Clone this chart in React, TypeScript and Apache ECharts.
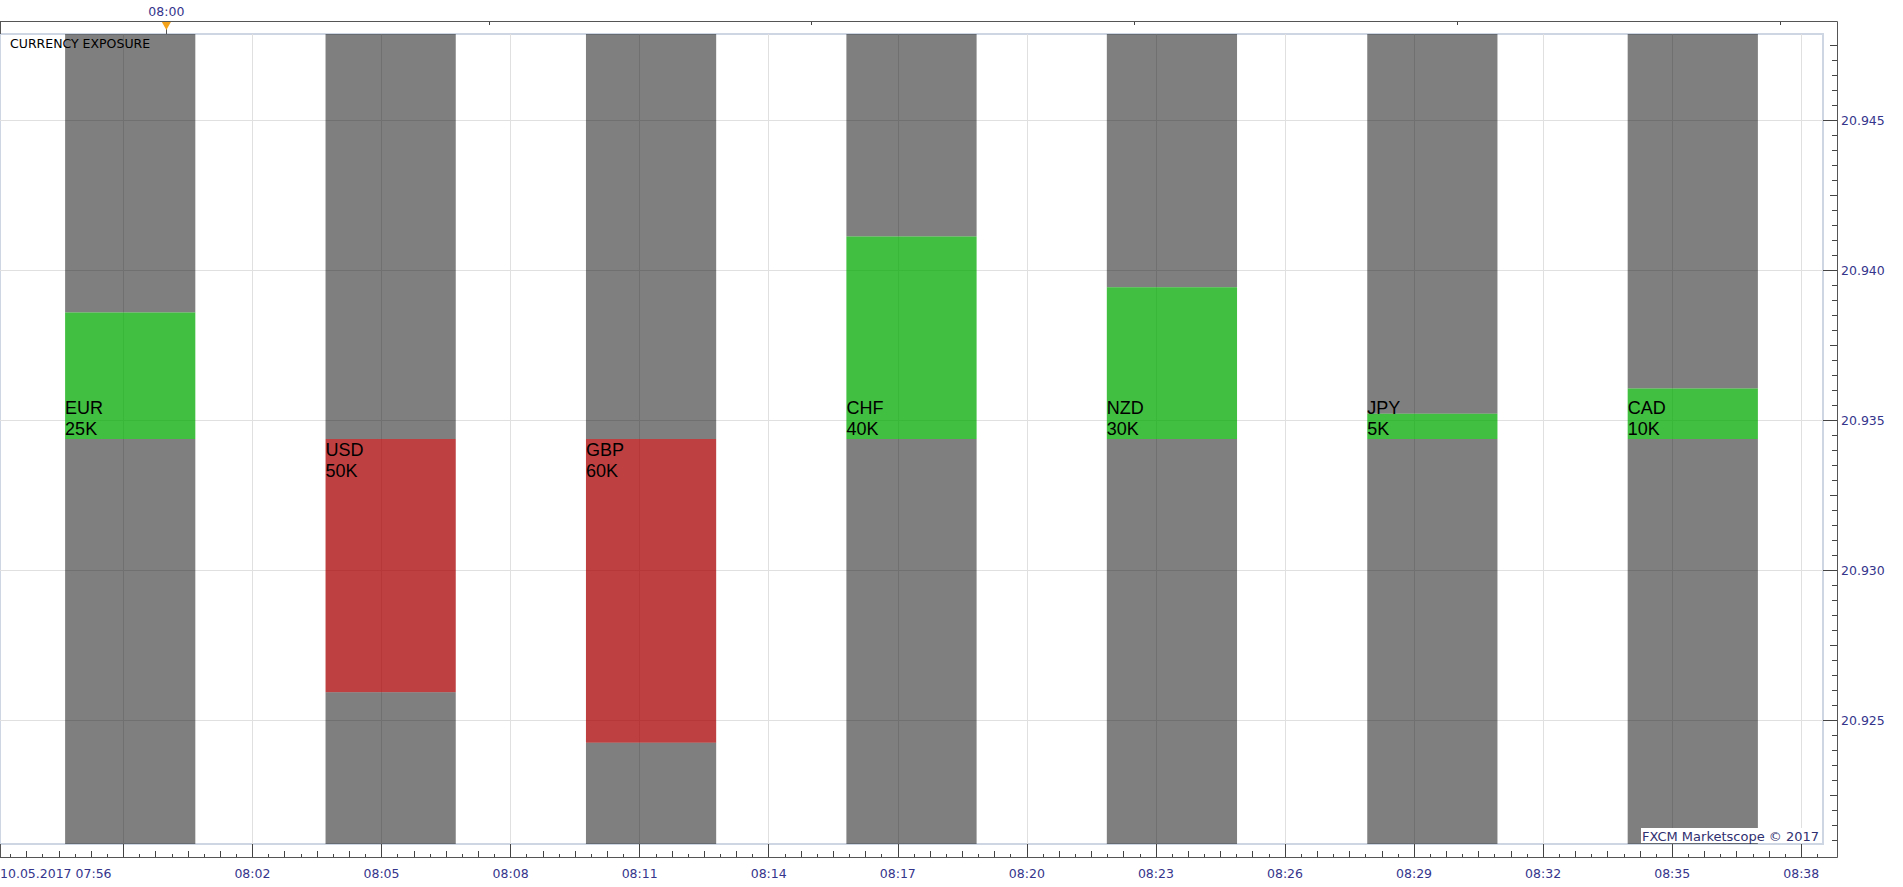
import React, { useEffect, useRef } from 'react';
import * as echarts from 'echarts';

// ---- data ----
const currencies = ['EUR', 'USD', 'GBP', 'CHF', 'NZD', 'JPY', 'CAD'];
const exposuresK = [25, -50, -60, 40, 30, 5, 10];
const exposureRangeK = 80;

// time axis: minutes after 10.05.2017 07:56
const startLabel = '10.05.2017 07:56';
const startMinuteOfDay = 7 * 60 + 56;
const timeMin = 0.1326;
const timeMax = 42.505;
const majorTimeTicks = [3, 6, 9, 12, 15, 18, 21, 24, 27, 30, 33, 36, 39, 42];
const timeLabelTicks = [6, 9, 12, 15, 18, 21, 24, 27, 30, 33, 36, 39, 42];
const topTimeTicks = [4, 11.5, 19, 26.5, 34, 41.5];
const topLabelTicks = [4];
const markerTime = 4;

// price axis
const priceMin = 20.920877;
const priceMax = 20.947877;
const priceTicks = [20.925, 20.93, 20.935, 20.94, 20.945];

const watermark = 'FXCM Marketscope \u00A9 2017';
const title = 'CURRENCY EXPOSURE';

// ---- helpers ----
const isMultiple = (v: number, step: number) => Math.abs(v / step - Math.round(v / step)) < 1e-6;
const timeTicksLong: number[] = [];
const timeTicksShort: number[] = [];
for (let k = 1; k * 0.375 < timeMax; k++) {
  const v = k * 0.375;
  if (v < timeMin || isMultiple(v, 3)) continue;
  if (k % 2 === 0) timeTicksLong.push(v);
  else timeTicksShort.push(v);
}
const priceMinorTicks: number[] = [];
const priceMidTicks: number[] = [];
for (let u = 209209; u <= 209478; u++) {
  if (u % 5 !== 0) continue;
  const v = u / 10000;
  if (v < priceMin || v > priceMax) continue;
  if (u % 50 === 0) continue;
  if (u % 25 === 0) priceMidTicks.push(v);
  else priceMinorTicks.push(v);
}

const fmtTime = (v: number) => {
  const m = Math.round(startMinuteOfDay + v);
  const hh = String(Math.floor(m / 60)).padStart(2, '0');
  const mm = String(m % 60).padStart(2, '0');
  return `${hh}:${mm}`;
};

const LABEL_COLOR = '#35358c';
const TICK_COLOR = '#444';
const FONT = 'DejaVu Sans';
const GREEN = 'rgba(0,170,0,0.75)';
const RED = 'rgba(170,0,0,0.75)';
const GRAY = 'rgba(0,0,0,0.5)';

export default function App() {
  const ref = useRef<HTMLDivElement>(null);
  useEffect(() => {
    if (!ref.current) return;
    const chart = echarts.init(ref.current, undefined, { renderer: 'svg' });

    const baseTimeAxis = {
      type: 'value',
      gridIndex: 0,
      min: timeMin,
      max: timeMax,
      position: 'bottom',
      offset: 13,
      axisLine: { show: false, onZero: false },
      splitLine: { show: false },
      axisLabel: { show: false },
    };

    const option: any = {
      animation: false,
      backgroundColor: '#fff',
      title: {
        text: title,
        left: 5,
        top: 32,
        textStyle: { fontSize: 12.5, fontWeight: 'normal', color: '#000', fontFamily: FONT },
      },
      grid: {
        left: 0,
        top: 34,
        right: 80,
        bottom: 43,
        containLabel: false,
        outerBoundsMode: 'none',
        show: true,
        borderColor: '#cdd6e2',
        borderWidth: 2,
        backgroundColor: 'transparent',
      },
      xAxis: [
        {
          ...baseTimeAxis,
          axisTick: { show: true, inside: true, length: 13, customValues: majorTimeTicks, lineStyle: { color: TICK_COLOR } },
          axisLabel: {
            show: true,
            customValues: timeLabelTicks,
            formatter: (v: number) => fmtTime(v),
            color: LABEL_COLOR,
            fontFamily: FONT,
            fontSize: 12.5,
            margin: 10,
          },
          splitLine: { show: true, lineStyle: { color: '#e0e0e0', width: 1 } },
        },
        {
          type: 'category',
          gridIndex: 0,
          data: currencies,
          show: false,
          boundaryGap: true,
          axisLine: { onZero: false },
        },
        {
          ...baseTimeAxis,
          axisTick: { show: true, inside: true, length: 6, customValues: timeTicksLong, lineStyle: { color: TICK_COLOR } },
        },
        {
          ...baseTimeAxis,
          axisTick: { show: true, inside: true, length: 3, customValues: timeTicksShort, lineStyle: { color: TICK_COLOR } },
        },
        {
          ...baseTimeAxis,
          axisTick: { show: false },
          axisLabel: {
            show: true,
            customValues: [timeMin],
            formatter: () => startLabel,
            align: 'left',
            color: LABEL_COLOR,
            fontFamily: FONT,
            fontSize: 12.5,
            margin: 10,
          },
        },
        {
          ...baseTimeAxis,
          position: 'top',
          offset: 12,
          axisTick: { show: true, inside: true, length: 3, customValues: topTimeTicks, lineStyle: { color: TICK_COLOR } },
          axisLabel: {
            show: true,
            customValues: topLabelTicks,
            formatter: (v: number) => fmtTime(v),
            color: LABEL_COLOR,
            fontFamily: FONT,
            fontSize: 12.5,
            margin: 4,
          },
        },
        {
          ...baseTimeAxis,
          position: 'top',
          offset: 0,
          axisTick: { show: true, inside: false, length: 9, customValues: [markerTime], lineStyle: { color: '#555' } },
        },
      ],
      yAxis: [
        {
          type: 'value',
          gridIndex: 0,
          position: 'right',
          offset: 14,
          min: priceMin,
          max: priceMax,
          axisLine: { show: false, onZero: false },
          axisTick: { show: true, inside: true, length: 14, customValues: priceTicks, lineStyle: { color: TICK_COLOR } },
          axisLabel: {
            show: true,
            customValues: priceTicks,
            formatter: (v: number) => v.toFixed(3),
            color: LABEL_COLOR,
            fontFamily: FONT,
            fontSize: 12.5,
            margin: 4,
          },
          splitLine: { show: true, lineStyle: { color: '#e0e0e0', width: 1 } },
        },
        {
          type: 'value',
          gridIndex: 0,
          min: -exposureRangeK,
          max: exposureRangeK,
          show: false,
          axisLine: { onZero: false },
          splitLine: { show: false },
        },
        {
          type: 'value',
          gridIndex: 0,
          position: 'right',
          offset: 14,
          min: priceMin,
          max: priceMax,
          axisLine: { show: false, onZero: false },
          axisTick: { show: true, inside: true, length: 5, customValues: priceMinorTicks, lineStyle: { color: TICK_COLOR } },
          axisLabel: { show: false },
          splitLine: { show: false },
        },
        {
          type: 'value',
          gridIndex: 0,
          position: 'right',
          offset: 14,
          min: priceMin,
          max: priceMax,
          axisLine: { show: false, onZero: false },
          axisTick: { show: true, inside: true, length: 7, customValues: priceMidTicks, lineStyle: { color: TICK_COLOR } },
          axisLabel: { show: false },
          splitLine: { show: false },
        },
      ],
      series: [
        {
          type: 'custom',
          xAxisIndex: 1,
          yAxisIndex: 1,
          data: currencies.map((c, i) => [i, exposuresK[i]]),
          encode: { x: 0, y: 1 },
          renderItem: (params: any, api: any) => {
            const idx = api.value(0);
            const v = api.value(1);
            const band = api.size([1, 0])[0];
            const c0 = api.coord([idx, 0]);
            const w = band * 0.5;
            const x = c0[0] - w / 2;
            const yTop = api.coord([idx, exposureRangeK])[1];
            const yBot = api.coord([idx, -exposureRangeK])[1];
            const yBase = c0[1];
            const yVal = api.coord([idx, v])[1];
            const hi = Math.min(yBase, yVal);
            const lo = Math.max(yBase, yVal);
            return {
              type: 'group',
              children: [
                { type: 'rect', shape: { x, y: yTop, width: w, height: hi - yTop }, style: { fill: GRAY } },
                { type: 'rect', shape: { x, y: hi, width: w, height: lo - hi }, style: { fill: v >= 0 ? GREEN : RED } },
                { type: 'rect', shape: { x, y: lo, width: w, height: yBot - lo }, style: { fill: GRAY } },
                {
                  type: 'text',
                  x,
                  y: yBase,
                  style: {
                    text: `${currencies[idx]}\n${Math.abs(v)}K`,
                    fill: '#000',
                    fontFamily: 'Liberation Sans',
                    fontSize: 18,
                    lineHeight: 21,
                    align: 'left',
                    verticalAlign: v >= 0 ? 'bottom' : 'top',
                  },
                },
              ],
            };
          },
        },
        {
          type: 'scatter',
          xAxisIndex: 0,
          yAxisIndex: 1,
          data: [[markerTime, exposureRangeK]],
          symbol: 'path://M0,0L10,0L5,10Z',
          symbolSize: [9, 8],
          symbolOffset: [0, -8],
          itemStyle: { color: '#f5a31a', opacity: 1 },
          clip: false,
          silent: true,
          z: 10,
        },
      ],
      graphic: [
        { type: 'line', z: 50, shape: { x1: 0, y1: 21.5, x2: 1837.5, y2: 21.5 }, style: { stroke: '#555', lineWidth: 1 } },
        { type: 'line', z: 50, shape: { x1: 0.5, y1: 21.5, x2: 0.5, y2: 34 }, style: { stroke: '#555', lineWidth: 1 } },
        { type: 'line', z: 50, shape: { x1: 0.5, y1: 844, x2: 0.5, y2: 857.5 }, style: { stroke: '#555', lineWidth: 1 } },
        { type: 'line', z: 50, shape: { x1: 1837.5, y1: 21.5, x2: 1837.5, y2: 857.5 }, style: { stroke: '#555', lineWidth: 1 } },
        { type: 'line', z: 50, shape: { x1: 0, y1: 857.5, x2: 1837.5, y2: 857.5 }, style: { stroke: '#555', lineWidth: 1 } },
        { type: 'rect', z: 60, shape: { x: 1641, y: 828, width: 181, height: 15 }, style: { fill: '#fff' } },
        {
          type: 'text',
          z: 61,
          x: 1642,
          y: 836.5,
          style: { text: watermark, fill: '#303070', fontFamily: FONT, fontSize: 13, verticalAlign: 'middle', align: 'left' },
        },
      ],
    };

    chart.setOption(option);
    return () => chart.dispose();
  }, []);

  return (
    <div
      ref={ref}
      style={{ position: 'absolute', left: 0, top: 0, width: 1903, height: 887, background: '#fff' }}
    />
  );
}
